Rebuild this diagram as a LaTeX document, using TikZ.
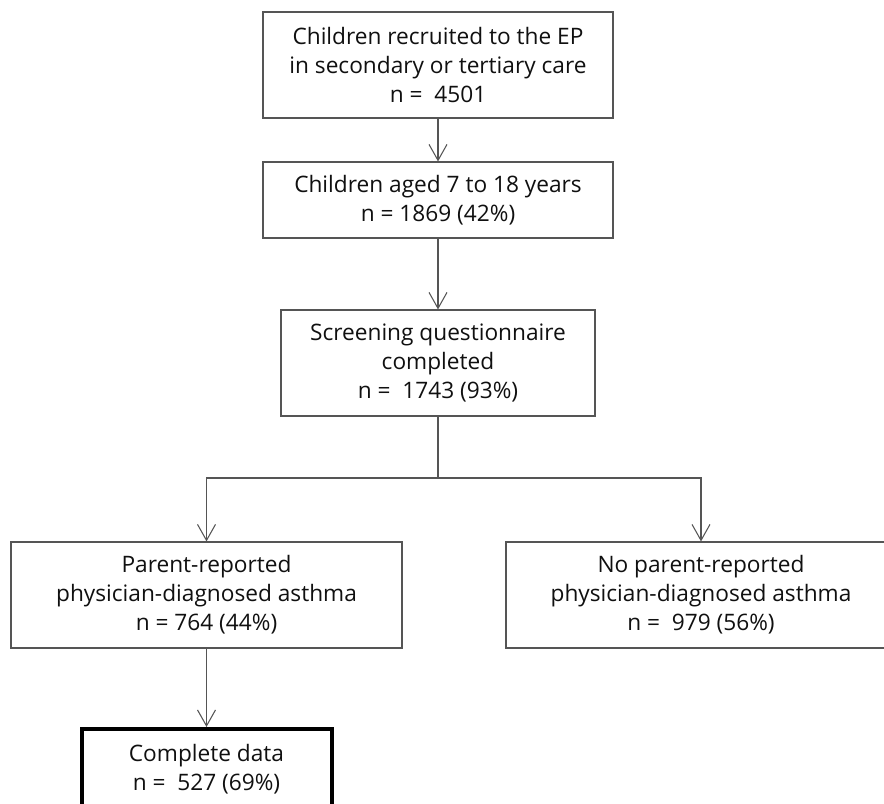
\documentclass[tikz,border=0pt]{standalone}
\usepackage{fontspec}
\setmainfont{Open Sans}
\usetikzlibrary{arrows.meta}
\definecolor{cline}{HTML}{555555}
\definecolor{ctext}{HTML}{101010}
\tikzset{
  every picture/.style={font=\fontsize{17}{21.75}\selectfont, line width=0.8pt},
  box/.style={draw=cline, fill=white, align=center, inner sep=4pt, text=ctext},
  bold/.style={box, draw=black, line width=3pt},
  arrow/.style={-{Straight Barb[length=12pt, width=13.5pt]}, draw=cline, line width=0.8pt},
  link/.style={draw=cline, line width=0.8pt},
}
\begin{document}
\begin{tikzpicture}[x=0.75pt, y=-0.75pt]
  \useasboundingbox (0, 0) rectangle (884, 803);
  \clip (0, 0) rectangle (884, 803);
  \node[box, minimum width=262.5pt, minimum height=79.5pt] (recruited) at (438, 65) {Children recruited to the EP\\in secondary or tertiary care\\n = \ 4501};
  \node[box, minimum width=262.5pt, minimum height=57pt] (aged) at (438, 200) {Children aged 7 to 18 years\\n = 1869 (42\%)};
  \node[box, minimum width=235.5pt, minimum height=79.5pt] (screening) at (438, 363) {Screening questionnaire\\completed\\n = \ 1743 (93\%)};
  \node[box, minimum width=293.25pt, minimum height=79.5pt] (asthma) at (206.5, 595) {Parent-reported\\physician-diagnosed asthma\\n = 764 (44\%)};
  \node[box, minimum width=292.5pt, minimum height=79.5pt] (noasthma) at (701, 595) {No parent-reported\\physician-diagnosed asthma\\n = \ 979 (56\%)};
  \node[bold, minimum width=187.5pt, minimum height=60pt] (complete) at (206.5, 769) {Complete data\\n = \ 527 (69\%)};
  \draw[arrow] (recruited) -- (aged);
  \draw[arrow] (aged) -- (screening);
  \draw[link] (screening.south) -- (438, 478) coordinate (split);
  \draw[arrow] (split) -| (asthma.north);
  \draw[arrow] (split) -| (noasthma.north);
  \draw[arrow] (asthma) -- (complete);
\end{tikzpicture}
\end{document}
